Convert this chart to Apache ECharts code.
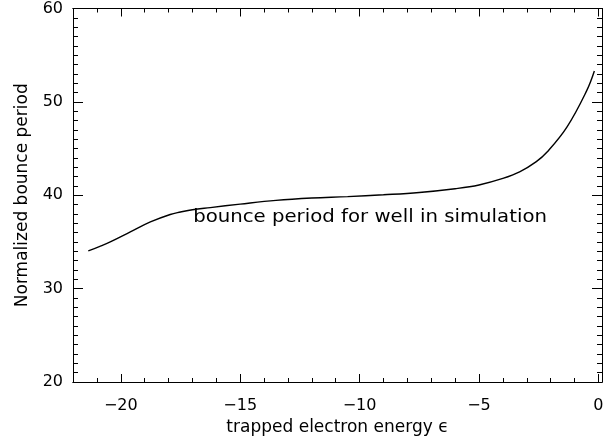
<!DOCTYPE html>
<html>
<head>
<meta charset="utf-8">
<script src="https://cdn.jsdelivr.net/npm/echarts@6/dist/echarts.min.js"></script>
<style>html,body{margin:0;padding:0;background:#fff;}#c{width:616px;height:437px;}</style>
</head>
<body>
<div id="c"></div>
<script>
var energy = [-21.36, -20.9, -20.44, -19.6, -18.76, -17.93, -17.5, -17.0, -16.25, -15.0, -13.5, -12.0, -10.5, -9.0, -7.5, -6.0, -5.0, -4.0, -3.3, -2.6, -2.16, -1.32, -0.49, -0.17];
var period = [34.04, 34.5, 35.0, 36.07, 37.14, 37.94, 38.2, 38.45, 38.68, 39.05, 39.45, 39.7, 39.85, 40.05, 40.3, 40.7, 41.1, 41.8, 42.5, 43.6, 44.6, 47.3, 51.2, 53.3];
var xMajorTicks = [-20, -15, -10, -5, 0];
var xTitle = 'trapped electron energy \u03F5';
var yTitle = 'Normalized bounce period';
var annotation = 'bounce period for well in simulation';
var annotationAt = [-16.97, 37.6];

var FONT = 'DejaVu Sans';
var XMIN = -22, XMAX = 0.15, YMIN = 20, YMAX = 60;
var line = {show: true, onZero: false, lineStyle: {color: '#000', width: 1}};
function minus(v) { return v < 0 ? '\u2212' + Math.abs(v) : String(v); }

function xAxisMinor(pos) {
  return {type: 'value', position: pos, min: XMIN, max: XMAX, interval: 1,
    axisLine: line, splitLine: {show: false},
    axisTick: {show: true, inside: true, length: 4, lineStyle: {color: '#000', width: 1}},
    axisLabel: {show: false}};
}
function xAxisMajor(pos, labels) {
  return {type: 'value', position: pos, min: XMIN, max: XMAX,
    axisLine: line, splitLine: {show: false},
    name: labels ? xTitle : '', nameLocation: 'middle', nameGap: 35,
    nameTextStyle: {fontFamily: FONT, fontSize: 17, color: '#000'},
    axisTick: {show: true, inside: true, length: 8, customValues: xMajorTicks, lineStyle: {color: '#000', width: 1}},
    axisLabel: {show: labels, customValues: xMajorTicks, margin: 16, formatter: minus,
      fontFamily: FONT, fontSize: 16, color: '#000'}};
}
function yAxis(pos, labels) {
  return {type: 'value', position: pos, min: YMIN, max: YMAX, interval: 10,
    axisLine: line, splitLine: {show: false},
    name: labels ? yTitle : '', nameLocation: 'middle', nameGap: 42,
    nameTextStyle: {fontFamily: FONT, fontSize: 17, color: '#000'},
    axisTick: {show: true, inside: true, length: 10, lineStyle: {color: '#000', width: 1}},
    minorTick: {show: true, splitNumber: 10, length: 5, lineStyle: {color: '#000', width: 1}},
    axisLabel: {show: labels, margin: 10, fontFamily: FONT, fontSize: 16, color: '#000'}};
}

var data = energy.map(function (e, i) { return [e, period[i]]; });
var chart = echarts.init(document.getElementById('c'), null, {renderer: 'canvas'});
chart.setOption({
  animation: false,
  backgroundColor: '#fff',
  grid: {left: 73, right: 14, top: 8.5, bottom: 55, containLabel: false, outerBoundsMode: 'none'},
  xAxis: [xAxisMinor('bottom'), xAxisMajor('bottom', true), xAxisMinor('top'), xAxisMajor('top', false)],
  yAxis: [yAxis('left', true), yAxis('right', false)],
  series: [{
    type: 'line', xAxisIndex: 1, yAxisIndex: 0, data: data, smooth: 0.4,
    showSymbol: false, lineStyle: {color: '#000', width: 1.4}
  }]
});
var p = chart.convertToPixel({xAxisIndex: 1, yAxisIndex: 0}, annotationAt);
chart.setOption({
  graphic: [{type: 'text', x: p[0], y: p[1], scaleX: 1.16, style: {text: annotation, fontFamily: FONT, fontSize: 17,
    fill: '#000', textAlign: 'left', textVerticalAlign: 'middle'}}]
});
</script>
</body>
</html>
